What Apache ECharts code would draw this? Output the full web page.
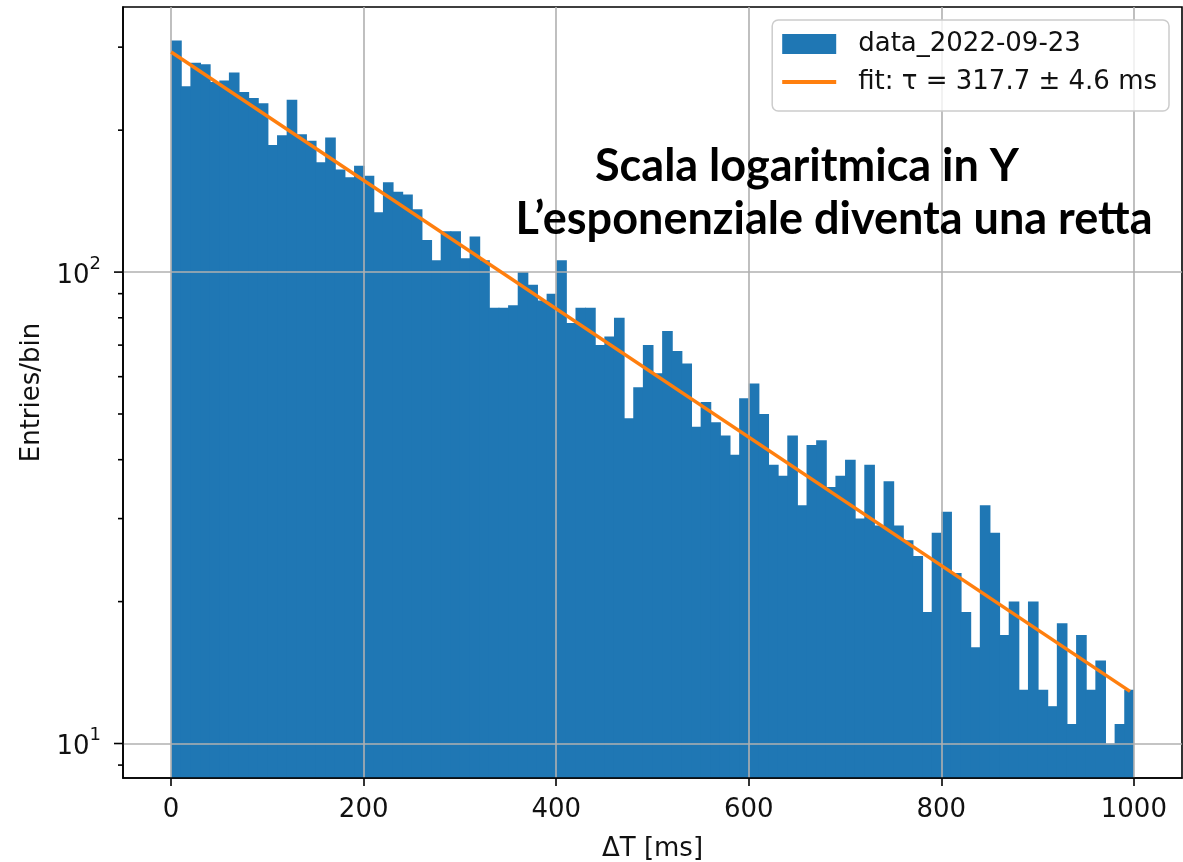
<!DOCTYPE html>
<html><head><meta charset="utf-8">
<script src="https://cdn.jsdelivr.net/npm/echarts@6/dist/echarts.min.js"></script>
<style>html,body{margin:0;padding:0;background:#fff}#c{width:1183px;height:862px}</style>
</head><body><div id="c"></div>
<script>
const histName = 'data_2022-09-23';
const fitName = 'fit: τ = 317.7 ± 4.6 ms';
const xAxisTitle = 'ΔT [ms]';
const yAxisTitle = 'Entries/bin';
const binStarts = [0,10,20,30,40,50,60,70,80,90,
100,110,120,130,140,150,160,170,180,190,
200,210,220,230,240,250,260,270,280,290,
300,310,320,330,340,350,360,370,380,390,
400,410,420,430,440,450,460,470,480,490,
500,510,520,530,540,550,560,570,580,590,
600,610,620,630,640,650,660,670,680,690,
700,710,720,730,740,750,760,770,780,790,
800,810,820,830,840,850,860,870,880,890,
900,910,920,930,940,950,960,970,980,990];
const binWidth = 10;
const counts = [310,248,278,276,253,255,265,241,234,228,
186,195,232,196,190,171,193,165,159,168,
160,134,155,148,146,136,117,106,122,122,
107,119,106,84,84,85,100,94,87,90,
106,78,84,84,70,73,80,49,57,70,
61,75,68,64,47,53,48,45,41,54,
58,50,39,37,45,32,43,44,35,37,
40,30,39,29,36,29,27,25,19,28,
31,23,19,16,32,28,17,20,13,20,
13,12,18,11,17,13,15,10,11,13];
const fitX = [0, 996];
const fitY = [293, 12.9];
const xTicks = [0,200,400,600,800,1000];
const yMajorTicks = [10, 100];
const yMinorTicks = [9,20,30,40,50,60,70,80,90,200,300];
const annotationLines = ['Scala logaritmica in Y', 'L\u2019esponenziale diventa una retta'];

const FONT = 'DejaVu Sans';
const chart = echarts.init(document.getElementById('c'), null, {renderer:'canvas'});
const histData = binStarts.map((s,i)=>[s, s+binWidth, counts[i], i === binStarts.length-1 ? 0 : 1]);
const tickData = yMajorTicks.map(v=>[0,v,9]).concat(yMinorTicks.map(v=>[0,v,5]));
const fitData = fitX.map((x,i)=>[x, fitY[i]]);

const option = {
  animation:false,
  grid:{left:123, right:1, top:7, bottom:84, outerBoundsMode:'none', containLabel:false,
    show:true, borderColor:'#000', borderWidth:1.6, backgroundColor:'transparent'},
  xAxis:{type:'value', min:-50, max:1050, z:3,
    name:xAxisTitle, nameLocation:'middle', nameGap:58,
    nameTextStyle:{fontSize:26, fontFamily:FONT, color:'#111'},
    axisLine:{show:true, onZero:false, lineStyle:{color:'#000', width:1.6}},
    axisTick:{show:true, length:8, customValues:xTicks, lineStyle:{color:'#000', width:1.6}},
    axisLabel:{customValues:xTicks, margin:19, fontSize:26, fontFamily:FONT, color:'#111',
      formatter:function(v){ return String(v); }},
    splitLine:{show:true, lineStyle:{color:'#b0b0b0', width:1.6}}
  },
  yAxis:{type:'log', logBase:10, min:8.45, max:365, z:3,
    name:yAxisTitle, nameLocation:'middle', nameGap:69, nameRotate:90,
    nameTextStyle:{fontSize:26, fontFamily:FONT, color:'#111'},
    axisLine:{show:true, onZero:false, lineStyle:{color:'#000', width:1.6}},
    axisTick:{show:false},
    axisLabel:{showMinLabel:false, showMaxLabel:false, margin:22,
      formatter:function(v){ const e=Math.round(Math.log10(v)); return '{b|10}{s|'+e+'}'; },
      rich:{b:{fontSize:26, fontFamily:FONT, color:'#111', padding:[8,0,0,0]},
            s:{fontSize:18, fontFamily:FONT, color:'#111', verticalAlign:'top'}}
    },
    splitLine:{show:true, showMinLine:false, showMaxLine:false, lineStyle:{color:'#b0b0b0', width:1.6}}
  },
  legend:{orient:'vertical', right:14, top:20, itemWidth:54, itemHeight:20, itemGap:12,
    padding:[11,12,16,10], backgroundColor:'rgba(255,255,255,0.8)', borderColor:'#cccccc', borderWidth:1.5, borderRadius:6,
    selectedMode:false, z:6,
    textStyle:{fontSize:26, fontFamily:FONT, color:'#111', padding:[0,0,0,17]},
    data:[{name:histName, icon:'rect'},{name:fitName, icon:'path://M0,0H54V4H0Z'}]
  },
  graphic:[
    {type:'text', x:807, y:166, z:10, style:{text:annotationLines[0], font:'bold 45px Lato', fill:'#000', align:'center', verticalAlign:'middle', textAlign:'center', textVerticalAlign:'middle'}},
    {type:'text', x:834, y:219, z:10, style:{text:annotationLines[1], font:'bold 45px Lato', fill:'#000', align:'center', verticalAlign:'middle', textAlign:'center', textVerticalAlign:'middle'}}
  ],
  series:[
    {name:histName, type:'custom', z:2, color:'#1f77b4', itemStyle:{color:'#1f77b4'},
     encode:{x:[0,1], y:2}, data:histData,
     renderItem:function(params, api){
       const cs = params.coordSys;
       const a = api.coord([api.value(0), api.value(2)]);
       const b = api.coord([api.value(1), api.value(2)]);
       const bottom = cs.y + cs.height;
       return {type:'rect', shape:{x:a[0], y:a[1], width:b[0]-a[0]+api.value(3), height:bottom-a[1]}, style:{fill:'#1f77b4'}};
     }},
    {name:'yticks', type:'custom', z:4, silent:true, encode:{x:0, y:1}, data:tickData,
     renderItem:function(params, api){
       const cs = params.coordSys;
       const y = api.coord([0, api.value(1)])[1];
       const len = api.value(2);
       return {type:'line', shape:{x1:cs.x-len, y1:y, x2:cs.x, y2:y}, style:{stroke:'#000', lineWidth:1.6}};
     }},
    {name:fitName, type:'line', z:5, color:'#ff7f0e', data:fitData, symbol:'none',
     lineStyle:{color:'#ff7f0e', width:3.5}}
  ]
};
chart.setOption(option);
</script></body></html>
